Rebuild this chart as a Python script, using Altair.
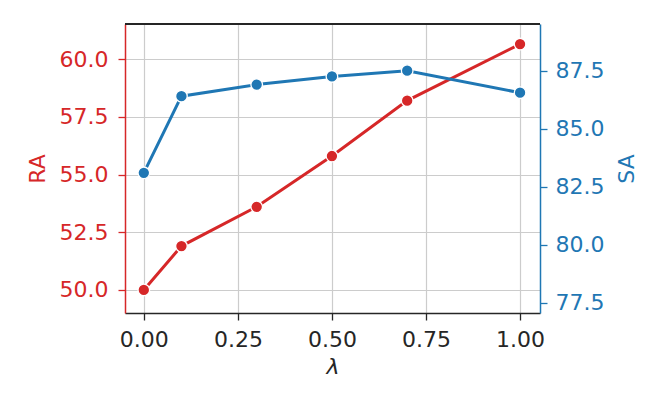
import altair as alt
import pandas as pd

lam = [0.0, 0.1, 0.3, 0.5, 0.7, 1.0]
ra = [50.0, 51.9, 53.6, 55.8, 58.2, 60.65]
sa = [83.1, 86.4, 86.9, 87.25, 87.5, 86.55]

df = pd.DataFrame({"lam": lam, "RA": ra, "SA": sa})

RED = "#d62728"
BLUE = "#1f77b4"
DARK = "#262626"
FS = 22

x_enc = alt.X(
    "lam:Q",
    scale=alt.Scale(domain=[-0.05, 1.053], nice=False, zero=False),
    axis=alt.Axis(
        title="λ", titleFontStyle="italic", values=[0, 0.25, 0.5, 0.75, 1.0], format=".2f",
        grid=True, gridColor="#cccccc", gridWidth=1.2,
        domainColor=DARK, domainWidth=1.5, tickColor=DARK, tickSize=7, tickWidth=1.3,
        labelColor=DARK, titleColor=DARK, labelFontSize=FS, titleFontSize=FS,
        labelPadding=9, titlePadding=6, labelFont="DejaVu Sans", titleFont="DejaVu Sans",
        titleFontWeight="normal",
    ),
)

line_props = dict(strokeWidth=3)

red = alt.Chart(df).mark_line(color=RED, point=alt.OverlayMarkDef(filled=True, size=135, stroke="white", strokeWidth=1.3, opacity=1, color=RED), **line_props).encode(
    x=x_enc,
    y=alt.Y(
        "RA:Q",
        scale=alt.Scale(domain=[49.0, 61.52], nice=False, zero=False),
        axis=alt.Axis(
            title="RA", orient="left", values=[50, 52.5, 55, 57.5, 60], format=".1f",
            grid=True, gridColor="#cccccc", gridWidth=1.2,
            domainColor=RED, domainWidth=1.5, tickColor=RED, tickSize=7, tickWidth=1.3,
            labelColor=RED, titleColor=RED, labelFontSize=FS, titleFontSize=FS,
            labelPadding=10, titlePadding=10, labelFont="DejaVu Sans", titleFont="DejaVu Sans",
            titleFontWeight="normal",
        ),
    ),
)

blue = alt.Chart(df).mark_line(color=BLUE, point=alt.OverlayMarkDef(filled=True, size=135, stroke="white", strokeWidth=1.3, opacity=1, color=BLUE), **line_props).encode(
    x=x_enc,
    y=alt.Y(
        "SA:Q",
        scale=alt.Scale(domain=[77.06, 89.51], nice=False, zero=False),
        axis=alt.Axis(
            title="SA", orient="right", values=[77.5, 80, 82.5, 85, 87.5], format=".1f",
            grid=False, titleAngle=270, titleX=86, titleY=144.5,
            titleAlign="center", titleBaseline="middle",
            domainColor=BLUE, domainWidth=1.5, tickColor=BLUE, tickSize=7, tickWidth=1.3,
            labelColor=BLUE, titleColor=BLUE, labelFontSize=FS, titleFontSize=FS,
            labelPadding=8, labelFont="DejaVu Sans", titleFont="DejaVu Sans",
            titleFontWeight="normal",
        ),
    ),
)

top = alt.Chart(df).mark_rule(color=DARK, strokeWidth=1.5).encode(
    x=alt.value(0), x2=alt.value(415), y=alt.value(0)
)

chart = (
    alt.layer(red, blue, top)
    .resolve_scale(y="independent")
    .properties(
        width=415,
        height=289,
        autosize=alt.AutoSizeParams(type="none"),
        padding={"left": 117, "top": 16, "right": 116, "bottom": 94},
    )
    .configure_view(stroke=None)
    .configure(font="DejaVu Sans")
)

chart.save("out.html", embed_options={"renderer": "svg", "actions": False})
